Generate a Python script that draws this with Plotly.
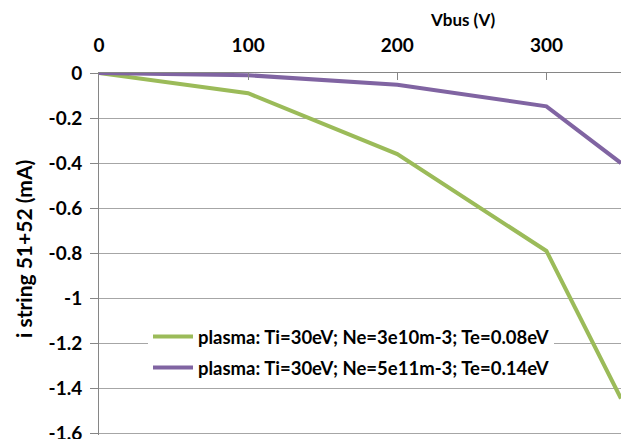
import plotly.graph_objects as go

vbus = [0, 100, 200, 300, 350]
i_low = [0, -0.09, -0.36, -0.79, -1.445]
i_high = [0, -0.01, -0.052, -0.148, -0.40]
name_low = "plasma: Ti=30eV; Ne=3e10m-3; Te=0.08eV"
name_high = "plasma: Ti=30eV; Ne=5e11m-3; Te=0.14eV"
x_ticks = [0, 100, 200, 300]
y_ticks = [0, -0.2, -0.4, -0.6, -0.8, -1, -1.2, -1.4, -1.6]
y_labels = ["0", "-0.2", "-0.4", "-0.6", "-0.8", "-1", "-1.2", "-1.4", "-1.6"]

FONT = "Lato"
L, R, T, B = 99, 8, 73, 4
W, H = 629, 439
pw, ph = W - L - R, H - T - B

fig = go.Figure()
fig.add_trace(go.Scatter(x=vbus, y=i_low, mode="lines", name=name_low,
                         legendgroup="a",
                         line=dict(color="#9BBB59", width=4)))
fig.add_trace(go.Scatter(x=vbus, y=i_high, mode="lines", name=name_high,
                         legendgroup="b",
                         line=dict(color="#8064A2", width=4)))

fig.update_layout(
    width=W, height=H,
    margin=dict(l=L, r=R, t=T, b=B, autoexpand=False),
    paper_bgcolor="white", plot_bgcolor="white",
    font=dict(family=FONT, size=16, color="black", weight="bold"),
    showlegend=True,
    legend=dict(x=(148 - L) / pw, y=(H - B - 318) / ph, xanchor="left", yanchor="top",
                bgcolor="white", borderwidth=0,
                font=dict(family=FONT, size=18.5, color="black", weight="bold"),
                itemwidth=40, traceorder="grouped", tracegroupgap=4),
    xaxis=dict(side="top", range=[0, 350], tickvals=x_ticks,
               ticks="inside", ticklen=7, tickcolor="#868686",
               showline=True, linecolor="#868686", linewidth=1,
               showgrid=False, zeroline=False, automargin=False,
               ticklabelstandoff=12,
               tickfont=dict(family=FONT, size=19, weight="bold")),
    yaxis=dict(range=[-1.607, 0], tickvals=y_ticks, ticktext=y_labels,
               ticks="outside", ticklen=8, tickcolor="#868686",
               showline=True, linecolor="#868686", linewidth=1,
               showgrid=True, gridcolor="#A6A6A6", gridwidth=1,
               zeroline=False, automargin=False, ticklabelstandoff=4,
               ticklabeloverflow="allow",
               tickfont=dict(family=FONT, size=19, weight="bold")),
    annotations=[
        dict(text="Vbus (V)", x=(462 - L) / pw, y=(H - B - 20) / ph,
             xref="paper", yref="paper", xanchor="center", yanchor="middle",
             showarrow=False, font=dict(family=FONT, size=17, weight="bold")),
        dict(text="i string 51+52 (mA)", x=(23 - L) / pw, y=(H - B - 249) / ph,
             xref="paper", yref="paper", textangle=-90,
             xanchor="center", yanchor="middle",
             showarrow=False, font=dict(family=FONT, size=21, weight="bold")),
    ],
)
fig.write_html("out.html", config={"displayModeBar": False},
               post_script="document.body.style.margin='0';document.body.style.overflow='hidden';")
